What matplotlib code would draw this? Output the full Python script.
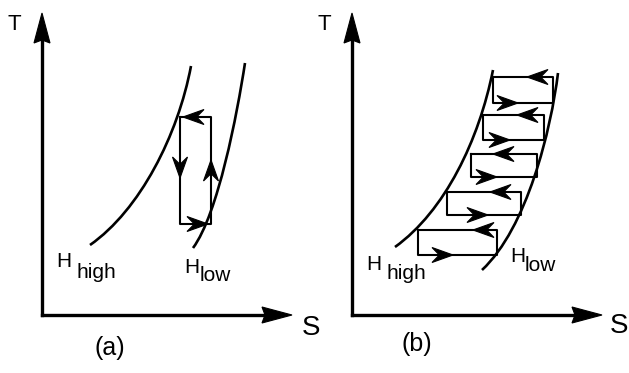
import numpy as np
import matplotlib.pyplot as plt
from matplotlib.path import Path
from matplotlib.patches import PathPatch, Polygon

# diagram geometry, in pixel units of the 629x373 picture (y grows downward)
panel_origin = [(42, 315), (352, 315)]
axis_tip_x = [292, 602]
axis_tip_y = [13, 13]

# isobar curves: cubic bezier (start, ctrl1, ctrl2, end)
h_high_a = [(90, 245), (140, 210), (178, 135), (191, 66)]
h_low_a = [(193, 248), (218, 214), (237, 115), (245, 63)]
h_high_b = [(395, 247), (445, 211), (479, 140), (493, 70)]
h_low_b = [(482, 270), (527, 228), (551, 130), (558, 73)]

# single cycle in (a): left, right, top, bottom
cycle_a = (180, 211, 117, 224)

# staircase of cycles in (b)
rect_left = [493, 483, 471, 447, 418]
rect_right = [553, 544, 537, 521, 497]
rect_top = [77, 115, 154, 192, 230]
rect_bottom = [103, 140, 177, 215, 255]
top_arrow_tip = [527, 517, 493, 490, 473]
bottom_arrow_tip = [518, 510, 497, 488, 453]

fig = plt.figure(figsize=(6.29, 3.73), dpi=100)
ax = fig.add_axes([0, 0, 1, 1])
ax.set_xlim(0, 629)
ax.set_ylim(373, 0)
ax.axis('off')

FONT = 'Liberation Sans'


def arrowhead(tip, d, length=21, half=7.5, notch=0.65):
    d = np.array(d, float)
    d = d / np.linalg.norm(d)
    n = np.array([-d[1], d[0]])
    tip = np.array(tip, float)
    pts = [tip,
           tip - length * d + half * n,
           tip - notch * length * d,
           tip - length * d - half * n]
    ax.add_patch(Polygon(pts, closed=True, fc='black', ec='black', lw=0.8,
                         joinstyle='miter'))


def curve(p):
    path = Path(p, [Path.MOVETO, Path.CURVE4, Path.CURVE4, Path.CURVE4])
    ax.add_patch(PathPatch(path, fc='none', ec='black', lw=1.9))


# axes with arrows
for (ox, oy), tx, ty in zip(panel_origin, axis_tip_x, axis_tip_y):
    ax.plot([ox, ox], [oy, ty + 20], color='black', lw=2.4)
    ax.plot([ox, tx - 20], [oy, oy], color='black', lw=2.4)
    arrowhead((ox, ty), (0, -1), length=30, half=8, notch=0.9)
    arrowhead((tx, oy), (1, 0), length=30, half=8, notch=0.9)

for c in [h_high_a, h_low_a, h_high_b, h_low_b]:
    curve(c)

# cycle (a)
l, r, t, b = cycle_a
ax.plot([l, r, r, l, l], [t, t, b, b, t], color='black', lw=1.5)
arrowhead((183, t), (-1, 0))
arrowhead((l, 178), (0, 1))
arrowhead((208, b), (1, 0))
arrowhead((r, 160), (0, -1))

# cycles (b)
for l, r, t, b, at, ab in zip(rect_left, rect_right, rect_top, rect_bottom,
                              top_arrow_tip, bottom_arrow_tip):
    ax.plot([l, r, r, l, l], [t, t, b, b, t], color='black', lw=1.5)
    arrowhead((at, t), (-1, 0))
    arrowhead((ab, b), (1, 0))

# labels
ax.text(14, 24, 'T', fontsize=16, family=FONT, ha='center', va='center')
ax.text(324, 24, 'T', fontsize=16, family=FONT, ha='center', va='center')
ax.text(311, 328, 'S', fontsize=20, family=FONT, ha='center', va='center')
ax.text(619, 326, 'S', fontsize=20, family=FONT, ha='center', va='center')
ax.text(110, 348, '(a)', fontsize=18, family=FONT, ha='center', va='center')
ax.text(417, 344, '(b)', fontsize=18, family=FONT, ha='center', va='center')

ax.text(56, 267, 'H', fontsize=15, family=FONT, ha='left', va='baseline')
ax.text(76, 278, 'high', fontsize=15, family=FONT, ha='left', va='baseline')
ax.text(184, 273, 'H', fontsize=15, family=FONT, ha='left', va='baseline')
ax.text(200, 281, 'low', fontsize=15, family=FONT, ha='left', va='baseline')
ax.text(366, 270, 'H', fontsize=15, family=FONT, ha='left', va='baseline')
ax.text(387, 279, 'high', fontsize=15, family=FONT, ha='left', va='baseline')
ax.text(510, 262, 'H', fontsize=15, family=FONT, ha='left', va='baseline')
ax.text(525, 271, 'low', fontsize=15, family=FONT, ha='left', va='baseline')

fig.savefig('out.png', dpi=100)
